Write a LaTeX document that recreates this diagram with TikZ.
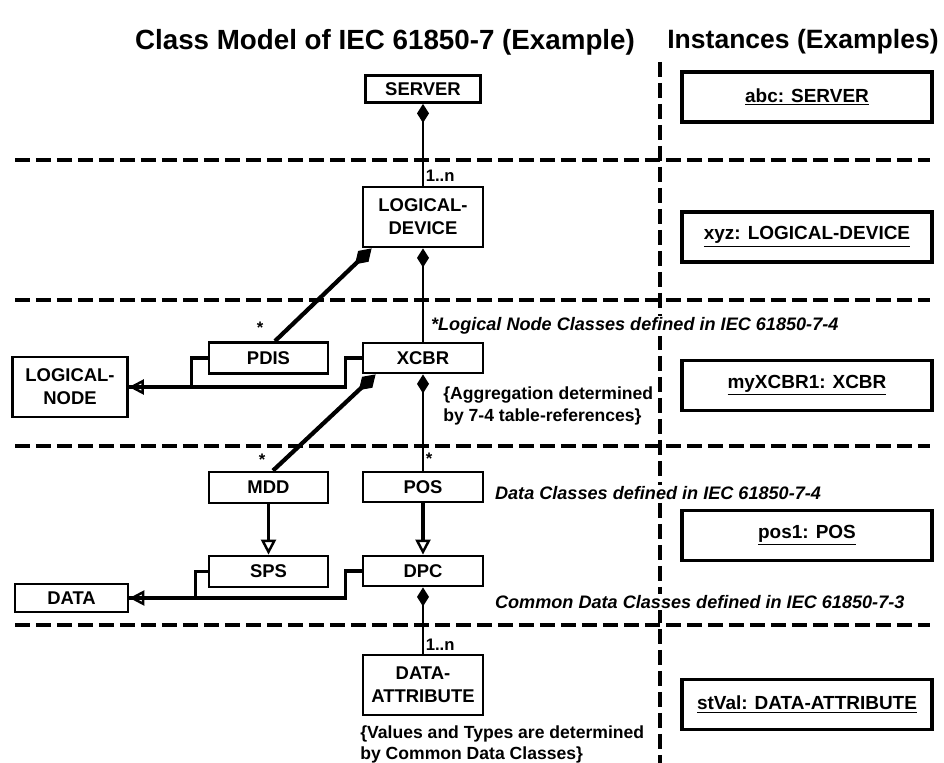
\documentclass[tikz,border=0pt]{standalone}
\usepackage{fontspec}
\setmainfont{Liberation Sans}
\usepackage{tikz}
\usetikzlibrary{arrows.meta, calc}

\begin{document}
\begin{tikzpicture}[
    x=0.02cm, y=-0.02cm,
    title/.style={font=\bfseries\fontsize{15.8}{18}\selectfont, inner sep=0pt},
    cls/.style={rectangle, draw, line width=1.6pt, minimum width=2.4cm,
                minimum height=0.6cm, align=center, inner sep=1pt,
                font=\bfseries\fontsize{10.5}{13}\selectfont},
    inst/.style={rectangle, draw, line width=2pt, minimum width=5cm,
                 minimum height=1cm, font=\bfseries\fontsize{10.8}{12}\selectfont},
    note/.style={anchor=west, align=left, inner sep=1pt, fill=white,
                 font=\bfseries\itshape\fontsize{10.3}{12}\selectfont},
    remark/.style={anchor=west, align=left, inner sep=0pt,
                   font=\bfseries\fontsize{10}{12}\selectfont},
    mult/.style={font=\bfseries\fontsize{9.5}{10}\selectfont, inner sep=1pt},
    divider/.style={line width=1.8pt, dash pattern=on 0.3cm off 0.12cm},
    part/.style={{Diamond[length=0.38cm, width=0.24cm]}-, line width=1.2pt},
    partthick/.style={{Diamond[length=0.46cm, width=0.3cm, line width=0.6pt]}-,
                      line width=2.4pt},
    inherit/.style={-{Triangle[open, length=0.3cm, width=0.3cm, line width=1.4pt]},
                    line width=1.8pt},
    stub/.style={line width=1.8pt}
]
\useasboundingbox (0,0) rectangle (944,763);

% headings
\node[title] (classtitle) at (385,42) {Class Model of IEC 61850-7 (Example)};
\node[title, font=\bfseries\fontsize{15.1}{18}\selectfont] (insttitle) at (803,42) {Instances (Examples)};

% dashed separators
\draw[divider] (660,62) -- (660,763);
\foreach \y in {160,300,446,625} {
    \draw[divider] (15,\y) -- (930,\y);
}

% class model
\node[cls, minimum width=2.3cm, minimum height=0.54cm] (server) at (423,89) {SERVER};
\node[cls, minimum height=1.2cm] (ldevice) at (423,217) {LOGICAL-\\DEVICE};
\node[cls, minimum width=2.38cm, minimum height=0.62cm] (pdis) at (268.5,358) {PDIS};
\node[cls, minimum height=0.6cm] (xcbr) at (423,358) {XCBR};
\node[cls, minimum width=2.3cm, minimum height=1.2cm] (lnode) at (70,387) {LOGICAL-\\NODE};
\node[cls, minimum width=2.38cm, minimum height=0.62cm] (mdd) at (268.5,487.5) {MDD};
\node[cls, minimum height=0.6cm] (pos) at (423,487) {POS};
\node[cls, minimum width=2.38cm, minimum height=0.62cm] (sps) at (268.5,571.5) {SPS};
\node[cls, minimum height=0.6cm] (dpc) at (423,571) {DPC};
\node[cls, minimum width=2.26cm, minimum height=0.56cm] (data) at (71.5,598) {DATA};
\node[cls, minimum height=1.2cm] (dattr) at (423,685) {DATA-\\ATTRIBUTE};

% aggregations
\draw[part] (server.south) -- node[mult, pos=0.88, anchor=west]{1..n} (ldevice.north);
\draw[part] (ldevice.south) -- (xcbr.north);
\draw[partthick] ([xshift=0.2cm]ldevice.south west) -- ([xshift=0.13cm]pdis.north);
\draw[part] (xcbr.south) -- node[mult, pos=0.88, anchor=west]{*} (pos.north);
\draw[partthick] ([xshift=0.28cm]xcbr.south west) -- ([xshift=0.09cm]mdd.north);
\draw[part] (dpc.south) -- node[mult, pos=0.86, anchor=west]{1..n} (dattr.north);
\node[mult] (pdisstar) at (260,328) {*};
\node[mult] (mddstar) at (262,460) {*};

% generalizations
\draw[stub] (pdis.west) -- ++(-16,0) |- (lnode.east);
\draw[inherit] (xcbr.west) -- ++(-16,0) |- (lnode.east);
\draw[stub] (sps.west) -- ++(-12,0) |- (data.east);
\draw[inherit] (dpc.west) -- ++(-16,0) |- (data.east);
\draw[inherit] (mdd.south) -- (sps.north);
\draw[inherit] (pos.south) -- (dpc.north);

% notes
\node[note] (lnnote) at (429,326) {*Logical Node Classes defined in IEC 61850-7-4};
\node[remark] (aggnote) at (443,406) {\{Aggregation determined\\by 7-4 table-references\}};
\node[note] (dcnote) at (493,493) {Data Classes defined in IEC 61850-7-4};
\node[note] (cdcnote) at (493,602) {Common Data Classes defined in IEC 61850-7-3};
\node[remark] (valnote) at (360,744) {\{Values and Types are determined\\by Common Data Classes\}};

% instances
\node[inst] (abc) at (807,97) {\underline{abc: SERVER}};
\node[inst] (xyz) at (807,237) {\underline{xyz: LOGICAL-DEVICE}};
\node[inst] (myxcbr) at (807,385.5) {\underline{myXCBR1: XCBR}};
\node[inst] (pos1) at (807,535.5) {\underline{pos1: POS}};
\node[inst] (stval) at (807,704.5) {\underline{stVal: DATA-ATTRIBUTE}};
\end{tikzpicture}
\end{document}
